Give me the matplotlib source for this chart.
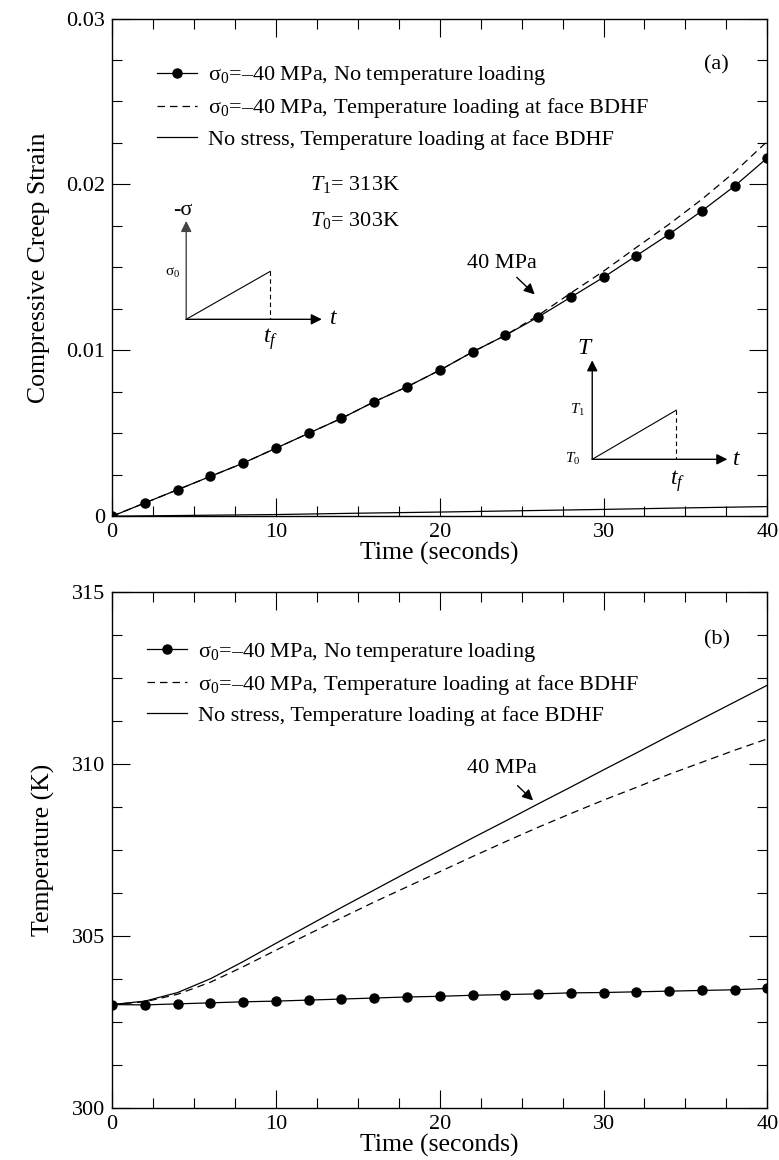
import numpy as np
import matplotlib
matplotlib.use('Agg')
import matplotlib.pyplot as plt
from matplotlib.ticker import MultipleLocator, FuncFormatter

plt.rcParams['font.family'] = ['Liberation Serif', 'DejaVu Serif']
plt.rcParams['mathtext.fontset'] = 'custom'
plt.rcParams['mathtext.rm'] = 'Liberation Serif'
plt.rcParams['mathtext.it'] = 'Liberation Serif:italic'

# time grid (s)
time = [0, 2, 4, 6, 8, 10, 12, 14, 16, 18, 20, 22, 24, 26, 28, 30, 32, 34, 36, 38, 40]

# (a) compressive creep strain
strain_no_temp = [0, 0.0008, 0.0016, 0.0024, 0.0032, 0.0041, 0.0050, 0.0059, 0.0069, 0.0078, 0.0088,
                  0.0099, 0.0109, 0.0120, 0.0132, 0.0144, 0.0157, 0.0170, 0.0184, 0.0199, 0.0216]
strain_temp = [0, 0.0008, 0.0016, 0.0024, 0.0032, 0.0041, 0.0050, 0.0059, 0.0069, 0.0078, 0.0088,
               0.0099, 0.0109, 0.0121, 0.01345, 0.01477, 0.0162, 0.0176, 0.0191, 0.02075, 0.0226]
time_ns = [0, 5, 10, 15, 20, 25, 30, 35, 40]
strain_no_stress = [0, 0.00005, 0.0001, 0.00018, 0.00025, 0.00033, 0.00041, 0.0005, 0.00058]

# (b) temperature (K)
temp_no_temp = [303.0, 302.99, 303.02, 303.05, 303.08, 303.10, 303.13, 303.16, 303.19, 303.22, 303.24,
                303.27, 303.29, 303.31, 303.34, 303.35, 303.37, 303.39, 303.41, 303.43, 303.47]
temp_stress_temp = [303.0, 303.08, 303.3, 303.65, 304.1, 304.58, 305.05, 305.52, 305.98, 306.42, 306.86,
                    307.3, 307.73, 308.15, 308.55, 308.94, 309.31, 309.69, 310.04, 310.39, 310.72]
temp_no_stress = [303.0, 303.1, 303.35, 303.75, 304.25, 304.78, 305.3, 305.82, 306.33, 306.84, 307.34,
                  307.84, 308.33, 308.83, 309.32, 309.82, 310.31, 310.81, 311.3, 311.79, 312.28]

lab1 = r'$\mathregular{σ_0}$=–40 MPa, No temperature loading'
lab2 = r'$\mathregular{σ_0}$=–40 MPa, Temperature loading at face BDHF'
lab3 = 'No stress, Temperature loading at face BDHF'

fig = plt.figure(figsize=(7.79, 11.6), dpi=100)
ax1 = fig.add_axes([0.144, 0.555, 0.841, 0.429])
ax2 = fig.add_axes([0.144, 0.045, 0.841, 0.445])

lw = 0.9
dash = (6, 4)
fs = 16


def style(ax, ymaj, ymin, fmt):
    ax.set_xlim(0, 40)
    ax.xaxis.set_major_locator(MultipleLocator(10))
    ax.xaxis.set_minor_locator(MultipleLocator(2.5))
    ax.yaxis.set_major_locator(MultipleLocator(ymaj))
    ax.yaxis.set_minor_locator(MultipleLocator(ymin))
    ax.yaxis.set_major_formatter(FuncFormatter(fmt))
    ax.tick_params(which='both', direction='in', top=True, right=True, width=0.8, labelsize=fs)
    ax.tick_params(which='major', length=13, pad=5)
    ax.tick_params(which='minor', length=7)
    for s in ax.spines.values():
        s.set_linewidth(1.0)
    ax.set_xlabel('Time (seconds)', fontsize=18.5, labelpad=0)


def arrow(ax, tail, tip, color='k'):
    ax.annotate('', xy=tip, xytext=tail,
                arrowprops=dict(arrowstyle='-|>', color=color, lw=1.0, mutation_scale=16,
                                shrinkA=0, shrinkB=0))


def legend(ax, x):
    ax.legend(loc='center left', bbox_to_anchor=(x, 0.822), frameon=False, fontsize=fs,
              handlelength=1.8, handletextpad=0.5, labelspacing=0.4, borderaxespad=0,
              borderpad=0)


# ---------------- (a) ----------------
ax1.plot(time, strain_no_temp, '-', color='k', lw=lw, marker='o', ms=6.5, label=lab1)
ax1.plot(time, strain_temp, '--', color='k', lw=lw, dashes=dash, label=lab2)
ax1.plot(time_ns, strain_no_stress, '-', color='k', lw=lw, label=lab3)
ax1.set_ylim(0, 0.03)
style(ax1, 0.01, 0.0025, lambda v, p: '0' if abs(v) < 1e-12 else '%g' % v)
ax1.set_ylabel('Compressive Creep Strain', fontsize=18.5, labelpad=12)
legend(ax1, 0.069)
ax1.text(36.9, 0.0272, '(a)', fontsize=fs, ha='center', va='center')
ax1.text(12.1, 0.0200, r'$T_1$= 313K', fontsize=fs, va='center')
ax1.text(12.1, 0.0178, r'$T_0$= 303K', fontsize=fs, va='center')

# stress loading sketch
arrow(ax1, (4.52, 0.01187), (4.52, 0.0178), color='#444444')
arrow(ax1, (4.52, 0.01187), (12.8, 0.01187))
ax1.plot([4.52, 9.65], [0.01187, 0.01476], color='k', lw=0.8)
ax1.plot([9.65, 9.65], [0.01476, 0.01187], color='k', lw=0.8, dashes=(4, 3))
ax1.text(4.3, 0.0184, '-σ', fontsize=fs, ha='center', va='center')
ax1.text(3.66, 0.01464, r'$\mathregular{σ_0}$', fontsize=11, ha='center', va='center')
ax1.text(13.5, 0.01193, r'$t$', fontsize=17, ha='center', va='center')
ax1.text(9.65, 0.0107, r'$t_f$', fontsize=17, ha='center', va='center')

# temperature loading sketch
arrow(ax1, (29.31, 0.00343), (29.31, 0.0094))
arrow(ax1, (29.31, 0.00343), (37.56, 0.00343))
ax1.plot([29.31, 34.44], [0.00343, 0.00639], color='k', lw=0.8)
ax1.plot([34.44, 34.44], [0.00639, 0.00343], color='k', lw=0.8, dashes=(4, 3))
ax1.text(28.9, 0.0101, r'$T$', fontsize=17, ha='center', va='center')
ax1.text(28.4, 0.00639, r'$T_1$', fontsize=11, ha='center', va='center')
ax1.text(28.1, 0.00343, r'$T_0$', fontsize=11, ha='center', va='center')
ax1.text(38.1, 0.00343, r'$t$', fontsize=17, ha='center', va='center')
ax1.text(34.5, 0.0021, r'$t_f$', fontsize=17, ha='center', va='center')

ax1.text(23.8, 0.01524, '40 MPa', fontsize=fs, ha='center', va='center')
arrow(ax1, (24.7, 0.0144), (25.8, 0.01337))

# ---------------- (b) ----------------
ax2.plot(time, temp_no_temp, '-', color='k', lw=lw, marker='o', ms=6.5, label=lab1)
ax2.plot(time, temp_stress_temp, '--', color='k', lw=lw, dashes=dash, label=lab2)
ax2.plot(time, temp_no_stress, '-', color='k', lw=lw, label=lab3)
ax2.set_ylim(300, 315)
style(ax2, 5, 1.25, lambda v, p: '%d' % round(v))
ax2.set_ylabel('Temperature (K)', fontsize=18.5, labelpad=12)
legend(ax2, 0.053)
ax2.text(36.9, 313.6, '(b)', fontsize=fs, ha='center', va='center')
ax2.text(23.8, 309.86, '40 MPa', fontsize=fs, ha='center', va='center')
arrow(ax2, (24.75, 309.36), (25.7, 308.93))

fig.savefig('out.png', dpi=100)
